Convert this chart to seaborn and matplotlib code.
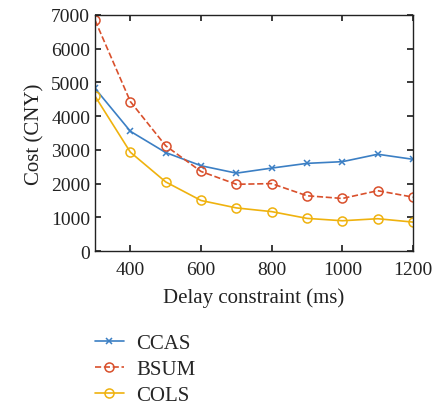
import seaborn as sns
import matplotlib.pyplot as plt

# data
delay = [300, 400, 500, 600, 700, 800, 900, 1000, 1100, 1200]
ccas = [4820, 3550, 2920, 2530, 2310, 2460, 2600, 2650, 2870, 2720]
bsum = [6840, 4430, 3120, 2360, 1980, 2000, 1640, 1560, 1790, 1600]
cols = [4590, 2930, 2050, 1500, 1280, 1170, 970, 900, 960, 860]

sns.set_theme(style="ticks")
plt.rcParams['font.family'] = ['Liberation Serif', 'DejaVu Serif']

fig = plt.figure(figsize=(4.38, 4.06), dpi=100)
ax = fig.add_axes([0.217, 0.379, 0.726, 0.582])

# (values, name, colour, marker, linestyle)
series = [
    (ccas, "CCAS", "#3b7fc4", "x", "-"),
    (bsum, "BSUM", "#d9502c", "o", "--"),
    (cols, "COLS", "#efb20e", "o", "-"),
]
for vals, name, col, mk, ls in series:
    sns.lineplot(x=delay, y=vals, ax=ax, label=name)
    ln = ax.lines[-1]
    ln.set_color(col)
    ln.set_linestyle(ls)
    ln.set_linewidth(1.2)
    ln.set_marker(mk)
    ln.set_markersize(4.5 if mk == "x" else 6.5)
    ln.set_markerfacecolor("none")
    ln.set_markeredgecolor(col)
    ln.set_markeredgewidth(1.1)

ax.set_xlim(300, 1200)
ax.set_ylim(0, 7000)
ax.set_xticks([400, 600, 800, 1000, 1200])
ax.set_yticks(range(0, 7001, 1000))
ax.tick_params(direction="in", top=True, right=True, labelsize=14, length=4,
               colors="#222222")
ax.tick_params(axis="x", pad=7)
for s in ax.spines.values():
    s.set_linewidth(1.0)
    s.set_color("#222222")
ax.set_xlabel("Delay constraint (ms)", fontsize=15, color="#222222", labelpad=7)
ax.set_ylabel("Cost (CNY)", fontsize=15, color="#222222", labelpad=5)

ax.legend(loc="upper left", bbox_to_anchor=(-0.06, -0.27), frameon=False,
          fontsize=15, handlelength=1.4, handletextpad=0.6, labelspacing=0.3)

fig.savefig("out.png", dpi=100)
